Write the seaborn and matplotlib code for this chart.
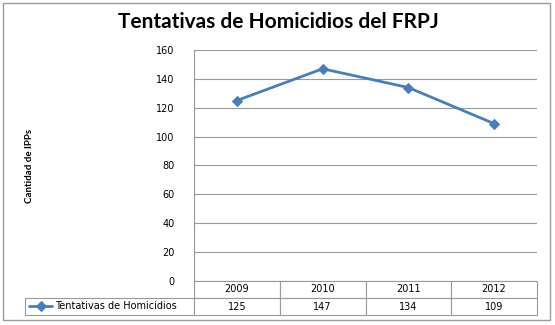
import matplotlib
matplotlib.use("Agg")
import matplotlib.pyplot as plt
from matplotlib.patches import Rectangle
import seaborn as sns
import pandas as pd

# Data
years = ["2009", "2010", "2011", "2012"]
attempts = [125, 147, 134, 109]
series_name = "Tentativas de Homicidios"
y_ticks = [0, 20, 40, 60, 80, 100, 120, 140, 160]

title = "Tentativas de Homicidios del FRPJ"
y_label = "Cantidad de IPPs"

LINE_COLOR = "#4A7EBB"
GRID_COLOR = "#999999"
TEXT_COLOR = "#000000"

sns.set_theme(style="white")
plt.rcParams["font.family"] = ["DejaVu Sans"]

W, H = 555, 325
fig = plt.figure(figsize=(W / 100, H / 100), dpi=100)
fig.patch.set_facecolor("white")

# plot area in pixel terms
left, right, top, bottom = 194, 537, 50, 281
ax = fig.add_axes([left / W, 1 - bottom / H, (right - left) / W, (bottom - top) / H])

df = pd.DataFrame({"Año": years, series_name: attempts})
sns.lineplot(data=df, x="Año", y=series_name, ax=ax, color=LINE_COLOR,
             linewidth=2.0, marker="D", markersize=5.5, markeredgecolor=LINE_COLOR,
             label=series_name, sort=False)

ax.set_xlim(-0.5, len(years) - 0.5)
ax.set_ylim(0, 160)
ax.set_yticks(y_ticks)
ax.set_yticklabels([str(t) for t in y_ticks], fontsize=7, color=TEXT_COLOR)
ax.tick_params(axis="y", length=0, pad=14)
ax.set_xticks([])
ax.set_xlabel("")
ax.set_ylabel("")

for t in y_ticks:
    ax.axhline(t, color=GRID_COLOR, linewidth=0.8, zorder=0)

for side in ["top", "right", "bottom"]:
    ax.spines[side].set_visible(False)
ax.spines["left"].set_color(GRID_COLOR)
ax.spines["left"].set_linewidth(0.8)

# data table below the plot
ax_w = right - left
ax_h = bottom - top
tbl_left = 25
tbl_h = 34
cell_text = [[""] + years, [""] + [str(v) for v in attempts]]
first_w = left - tbl_left
col_w = [first_w / ax_w] + [1.0 / len(years)] * len(years)
table = ax.table(cellText=cell_text, colWidths=col_w, cellLoc="center",
                 bbox=[(tbl_left - left) / ax_w, -tbl_h / ax_h,
                       (right - tbl_left) / ax_w, tbl_h / ax_h])
table.auto_set_font_size(False)
table.set_fontsize(7)
for (r, c), cell in table.get_celld().items():
    cell.set_edgecolor(GRID_COLOR)
    cell.set_linewidth(0.8)
    cell.get_text().set_color(TEXT_COLOR)
    if r == 0 and c == 0:
        cell.visible_edges = ""

# legend key placed inside the first table cell
leg = ax.legend(loc="center left", bbox_to_anchor=((29 - left) / ax_w, (bottom - 306) / ax_h),
                frameon=False, fontsize=7, handlelength=2.4, handletextpad=0.3,
                borderpad=0, borderaxespad=0)
for txt in leg.get_texts():
    txt.set_color(TEXT_COLOR)

fig.text(278 / W, 1 - 22 / H, title, ha="center", va="center", color=TEXT_COLOR,
         fontsize=15, fontweight="bold", family=["Lato", "DejaVu Sans"])
fig.text(30 / W, 1 - 166 / H, y_label, ha="center", va="center", rotation=90,
         color=TEXT_COLOR, fontsize=7, fontweight="bold", family=["Lato", "DejaVu Sans"])

# chart frame
fig.patches.append(Rectangle((3 / W, 1 - 320 / H), 547 / W, 317 / H,
                             transform=fig.transFigure, fill=False,
                             edgecolor="#9A9A9A", linewidth=1.0))

fig.savefig("out.png", dpi=100)
